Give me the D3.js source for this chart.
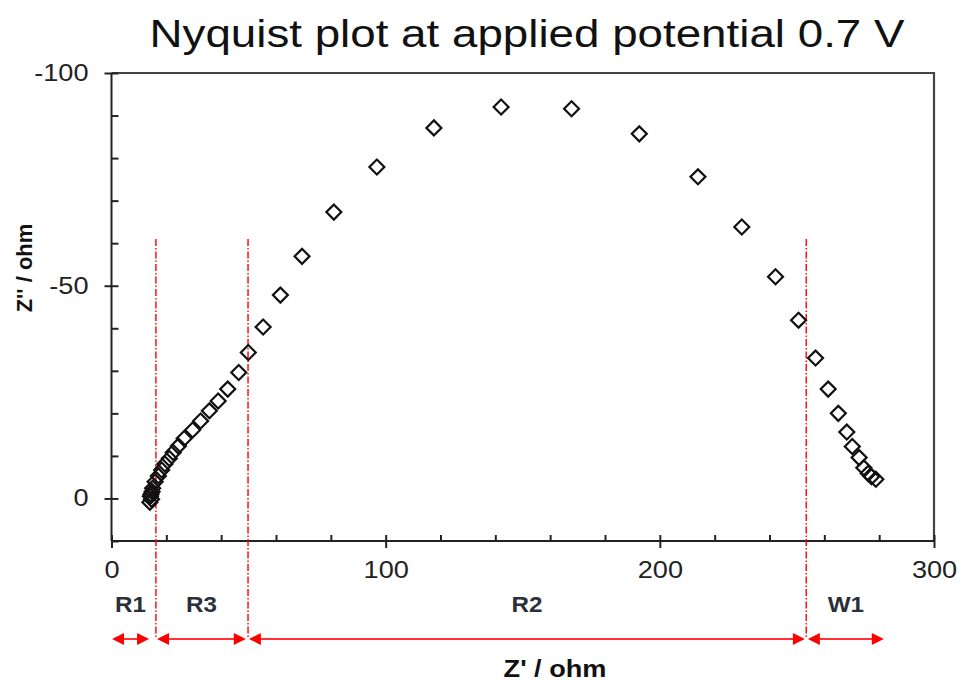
<!DOCTYPE html>
<html>
<head>
<meta charset="utf-8">
<script src="https://cdn.jsdelivr.net/npm/d3@7"></script>
<style>
  html, body { margin: 0; padding: 0; background: #fff; }
  svg { display: block; font-family: "Liberation Sans", Arial, sans-serif; }
</style>
</head>
<body>
<svg id="chart" width="960" height="682"></svg>
<script>
// ---- data ----
const zReal = [14.0, 14.6, 14.2, 14.4, 14.8, 15.0, 15.9, 17.1, 18.3, 19.5, 21.1, 22.5, 24.4, 26.5, 29.6, 32.5,
  35.7, 38.9, 42.4, 46.4, 49.9, 55.3, 61.6, 69.5, 81.1, 96.8, 117.6, 142.1, 167.8, 192.5, 213.9,
  229.9, 242.2, 250.6, 256.8, 261.4, 265.1, 268.2, 270.2, 272.7, 274.4, 276.0, 277.2, 278.8];
const zImag = [0.9, 0.2, -0.5, -1.0, -1.6, -2.4, -3.9, -5.3, -6.7, -8.1, -9.4, -10.8, -12.3, -14.1, -16.1, -18.2,
  -20.6, -22.9, -25.7, -29.6, -34.3, -40.3, -47.8, -56.9, -67.3, -77.9, -87.1, -92.0, -91.6, -85.7, -75.6,
  -63.8, -52.1, -41.9, -33.0, -25.7, -20.0, -15.6, -12.2, -9.6, -7.2, -5.9, -5.1, -4.5];

const xTicks = [0, 100, 200, 300];
const yTicks = [-100, -50, 0];
const regionLabels = ["R1", "R3", "R2", "W1"];
const regionStart = [0.2, 16.6, 50.1, 254.0];
const regionEnd = [13.7, 49.0, 252.9, 281.7];
const boundaries = [16.2, 49.8, 253.4];

const title = "Nyquist plot at applied potential 0.7 V";
const xLabel = "Z' / ohm";
const yLabel = "Z'' / ohm";

// ---- layout ----
const svg = d3.select("#chart");
const L = 111.5, R = 934, T = 73, B = 541;
const x = d3.scaleLinear().domain([0, 300]).range([L, R]);
const y = d3.scaleLinear().domain([10, -100]).range([B, T]);
const SX = 1.18;

svg.append("rect").attr("width", 960).attr("height", 682).attr("fill", "#fff");

// frame (top & right)
svg.append("path")
  .attr("d", `M${L},${T}H${R}V${B}`)
  .attr("fill", "none").attr("stroke", "#444").attr("stroke-width", 2.2);

// x axis: major ticks down, minor inside
const gx = svg.append("g").attr("transform", `translate(0,${B})`);
gx.call(d3.axisBottom(x).tickValues(xTicks).tickSize(7).tickPadding(14).tickFormat(d => String(d)));
const gxm = svg.append("g").attr("transform", `translate(0,${B})`);
gxm.call(d3.axisTop(x).tickValues(d3.range(0, 301, 20)).tickSize(6).tickFormat(""));

// y axis
const gy = svg.append("g").attr("transform", `translate(${L},0)`);
gy.call(d3.axisLeft(y).tickValues(yTicks).tickSize(7).tickPadding(16).tickFormat(d => String(d)));
const gym = svg.append("g").attr("transform", `translate(${L},0)`);
gym.call(d3.axisRight(y).tickValues(d3.range(-100, 11, 10)).tickSize(7).tickFormat(""));

[gx, gxm, gy, gym].forEach(g => {
  g.select(".domain").attr("stroke", "#222").attr("stroke-width", 2);
  g.selectAll(".tick line").attr("stroke", "#222").attr("stroke-width", 2);
});
gxm.select(".domain").remove();
gym.select(".domain").remove();
gx.select(".domain").attr("d", `M${L},0H${R}`);
gy.select(".domain").attr("d", `M0,${T}V${B}`);

gx.selectAll(".tick text")
  .attr("font-size", 23).attr("fill", "#222")
  .each(function () {
    const t = d3.select(this);
    const yy = +t.attr("y");
    t.attr("y", 0).attr("transform", `translate(0,${yy}) scale(${SX},1)`);
  });
gy.selectAll(".tick text")
  .attr("font-size", 23).attr("fill", "#222")
  .each(function () {
    const t = d3.select(this);
    const xx = +t.attr("x");
    t.attr("x", 0).attr("transform", `translate(${xx},0) scale(${SX},1)`);
  });

// red dash-dot boundary lines
const arrowY = 639;
svg.append("g").selectAll("line").data(boundaries).join("line")
  .attr("x1", d => x(d)).attr("x2", d => x(d))
  .attr("y1", y(-61)).attr("y2", arrowY)
  .attr("stroke", "#f00").attr("stroke-width", 1.4)
  .attr("stroke-dasharray", "7,2,1.5,2");

// double arrows
const ag = svg.append("g");
const HL = 12, HW = 6;
regionLabels.forEach((lab, i) => {
  const x0 = x(regionStart[i]), x1 = x(regionEnd[i]);
  ag.append("line").attr("x1", x0 + 4).attr("x2", x1 - 4)
    .attr("y1", arrowY).attr("y2", arrowY)
    .attr("stroke", "#f33").attr("stroke-width", 2);
  ag.append("path")
    .attr("d", `M${x0},${arrowY}L${x0 + HL},${arrowY - HW}L${x0 + HL},${arrowY + HW}Z`)
    .attr("fill", "#f00");
  ag.append("path")
    .attr("d", `M${x1},${arrowY}L${x1 - HL},${arrowY - HW}L${x1 - HL},${arrowY + HW}Z`)
    .attr("fill", "#f00");
  ag.append("text")
    .attr("transform", `translate(${(x0 + x1) / 2},612) scale(1.1,1)`)
    .attr("text-anchor", "middle")
    .attr("font-size", 22).attr("font-weight", "bold")
    .attr("fill", "#2b2f3a")
    .text(lab);
});

// data markers (open diamonds)
const diamond = d3.symbol(d3.symbolSquare, 112)();
svg.append("g").selectAll("path").data(zReal.map((v, i) => [v, zImag[i]])).join("path")
  .attr("d", diamond)
  .attr("transform", d => `translate(${x(d[0])},${y(d[1])}) rotate(45)`)
  .attr("fill", "none").attr("stroke", "#111").attr("stroke-width", 2.2);

// title
svg.append("text")
  .attr("x", 527).attr("y", 47)
  .attr("text-anchor", "middle")
  .attr("font-size", 38).attr("fill", "#111")
  .attr("textLength", 755).attr("lengthAdjust", "spacingAndGlyphs")
  .text(title);

// axis labels
svg.append("text")
  .attr("transform", `translate(555,677) scale(${SX},1)`)
  .attr("text-anchor", "middle")
  .attr("font-size", 23).attr("font-weight", "bold").attr("fill", "#111")
  .text(xLabel);
svg.append("text")
  .attr("transform", `translate(32,268) rotate(-90)`)
  .attr("text-anchor", "middle")
  .attr("font-size", 22).attr("font-weight", "bold").attr("fill", "#111")
  .text(yLabel);
</script>
</body>
</html>
